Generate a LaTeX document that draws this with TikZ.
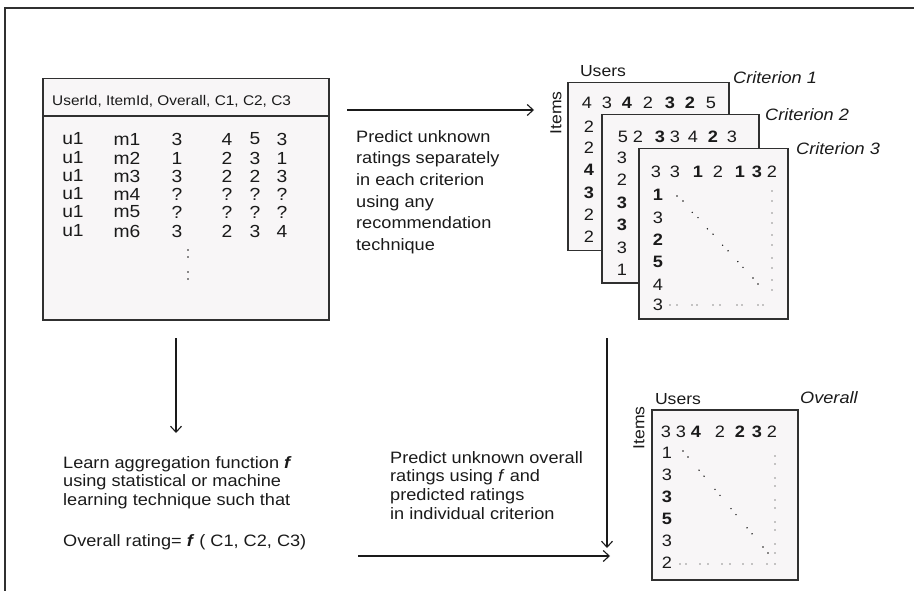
\documentclass[tikz,border=0pt]{standalone}
\usepackage{fontspec}
\setmainfont{Liberation Sans}[FakeStretch=1.1]
\usetikzlibrary{arrows.meta}

\definecolor{ink}{HTML}{1A1A1A}
\definecolor{edge}{HTML}{303030}
\definecolor{boxfill}{HTML}{F8F6F7}

\tikzset{
  panel/.style={draw=edge, line width=1.5pt, fill=boxfill, inner sep=0pt, anchor=north west},
  flow/.style={draw=ink, line width=1.1pt, -{Straight Barb[length=6pt,width=11pt,line width=1.1pt]}},
  cell/.style={inner sep=0pt, text=ink, font=\fontsize{17.5}{20}\selectfont},
  num/.style={inner sep=0pt, text=ink, font=\fontsize{16.5}{20}\selectfont},
  axis/.style={inner sep=0pt, text=ink, font=\fontsize{16}{20}\selectfont},
  crit/.style={inner sep=0pt, text=ink, anchor=west, font=\fontsize{16.5}{18}\selectfont\itshape},
  note/.style={inner sep=0pt, text=ink, anchor=north west, align=left},
  pip/.style={fill=ink, draw=none}
}

\begin{document}
\begin{tikzpicture}[x=1pt, y=-1pt]
\useasboundingbox (0,0) rectangle (914,591);

% outer frame (open to the right and bottom)
\draw[line width=1.8pt, draw=edge] (5,591) -- (5,8) -- (914,8);

% ---------- data table ----------
\node[panel, minimum width=286pt, minimum height=241pt] (data) at (42,78) {};
\draw[line width=1.2pt, draw=edge] (42,116) -- (328,116);
\node[inner sep=0pt, text=ink, anchor=west, font=\fontsize{14}{16}\selectfont] (head) at (52,101)
  {UserId, ItemId, Overall, C1, C2, C3};

\foreach \r/\y/\m/\o/\a/\b/\c in {1/139/m1/3/4/5/3, 2/158/m2/1/2/3/1, 3/176/m3/3/2/2/3,
                                 4/194/m4/?/?/?/?, 5/212/m5/?/?/?/?, 6/231/m6/3/2/3/4} {
  \node[cell] (u\r) at (73,\y) {u1};
  \node[cell] (m\r) at (127,\y) {\m};
  \node[cell] (o\r) at (177,\y) {\o};
  \node[cell] (ca\r) at (227,\y) {\a};
  \node[cell] (cb\r) at (255,\y) {\b};
  \node[cell] (cc\r) at (282,\y) {\c};
}
\foreach \y in {250,257,272,279} \fill[pip] (188,\y) circle (0.9pt);

% ---------- arrows ----------
\coordinate (topS) at (347,110);
\coordinate (topE) at (534,110);
\coordinate (leftS) at (176,338);
\coordinate (leftE) at (176,433);
\coordinate (rightS) at (607,338);
\coordinate (rightE) at (607,548);
\coordinate (botS) at (358,556);
\coordinate (botE) at (610,556);
\draw[flow] (topS) -- (topE);
\draw[flow] (leftS) -- (leftE);
\draw[flow] (rightS) -- (rightE);
\draw[flow] (botS) -- (botE);

% ---------- explanatory texts ----------
\node[note, font=\fontsize{16.5}{21.7}\selectfont] (step1) at (356,130)
  {Predict unknown\\ratings separately\\in each criterion\\using any\\recommendation\\technique};
\node[note, font=\fontsize{16.5}{18.7}\selectfont] (learn) at (63,456)
  {Learn aggregation function \textbf{\textit{f}}\\using statistical or machine\\learning technique such that\\[22pt]
   Overall rating= \textbf{\textit{f}} ( C1, C2, C3)};
\node[note, font=\fontsize{16.5}{18.7}\selectfont] (step2) at (390,451)
  {Predict unknown overall\\ratings using \textit{f} and\\predicted ratings\\in individual criterion};

% ---------- criterion matrices ----------
\node[panel, minimum width=161pt, minimum height=168pt] (crit1) at (567,82) {};
\node[axis] (users1) at (603,71) {Users};
\node[axis, rotate=90] (items1) at (556,113) {Items};
\node[crit] (lab1) at (733,78) {Criterion 1};
\foreach \x/\t [count=\i] in {587/4,607/3,627/\textbf{4},648/2,670/\textbf{3},690/\textbf{2},711/5}
  \node[num] (ar\i) at (\x,103) {\t};
\foreach \y/\t [count=\i] in {127/2,148/2,170/\textbf{4},193/\textbf{3},215/2,237/2}
  \node[num] (ac\i) at (589,\y) {\t};

\node[panel, minimum width=157pt, minimum height=168pt] (crit2) at (601,114) {};
\node[crit] (lab2) at (765,115) {Criterion 2};
\foreach \x/\t [count=\i] in {623/5,638/2,660/\textbf{3},675/3,693/4,713/\textbf{2},732/3}
  \node[num] (br\i) at (\x,137) {\t};
\foreach \y/\t [count=\i] in {158/3,180/2,203/\textbf{3},225/\textbf{3},248/3,270/1}
  \node[num] (bc\i) at (622,\y) {\t};

\node[panel, minimum width=149pt, minimum height=170pt] (crit3) at (638,148) {};
\node[crit] (lab3) at (796,149) {Criterion 3};
\foreach \x/\t [count=\i] in {656/3,675/3,698/\textbf{1},718/2,740/\textbf{1},757/\textbf{3},772/2}
  \node[num] (cr\i) at (\x,172) {\t};
\foreach \y/\t [count=\i] in {195/\textbf{1},218/3,240/\textbf{2},262/\textbf{5},285/4,305/3}
  \node[num] (cq\i) at (658,\y) {\t};
\foreach \k in {0,...,5} {
  \fill[pip] (677+15.2*\k,196+16.4*\k) circle (0.8pt);
  \fill[pip] (683+15*\k,201+16.6*\k) circle (0.8pt);
}
\foreach \y in {191,201,213,223,235,245,258,268,280,290} \fill[pip] (772,\y) circle (0.7pt);
\foreach \x in {670,677,692,697,713,720,737,742,758,763} \fill[pip] (\x,305) circle (0.7pt);

% ---------- overall matrix ----------
\node[panel, minimum width=146pt, minimum height=170pt] (overall) at (651,409) {};
\node[axis] (users2) at (678,399) {Users};
\node[axis, rotate=90] (items2) at (639,428) {Items};
\node[crit] (lab4) at (800,398) {Overall};
\foreach \x/\t [count=\i] in {666/3,681/3,696/\textbf{4},720/2,740/\textbf{2},757/\textbf{3},772/2}
  \node[num] (dr\i) at (\x,432) {\t};
\foreach \y/\t [count=\i] in {453/1,475/3,497/\textbf{3},519/\textbf{5},541/3,563/2}
  \node[num] (dc\i) at (667,\y) {\t};
\foreach \k in {0,...,5} {
  \fill[pip] (683+16*\k,451+19.2*\k) circle (0.8pt);
  \fill[pip] (688+16*\k,457+19.2*\k) circle (0.8pt);
}
\foreach \y in {456,464,478,486,500,508,522,530,544,553} \fill[pip] (775,\y) circle (0.7pt);
\foreach \x in {680,686,700,708,722,730,743,752,767,775} \fill[pip] (\x,564) circle (0.7pt);
\end{tikzpicture}
\end{document}
